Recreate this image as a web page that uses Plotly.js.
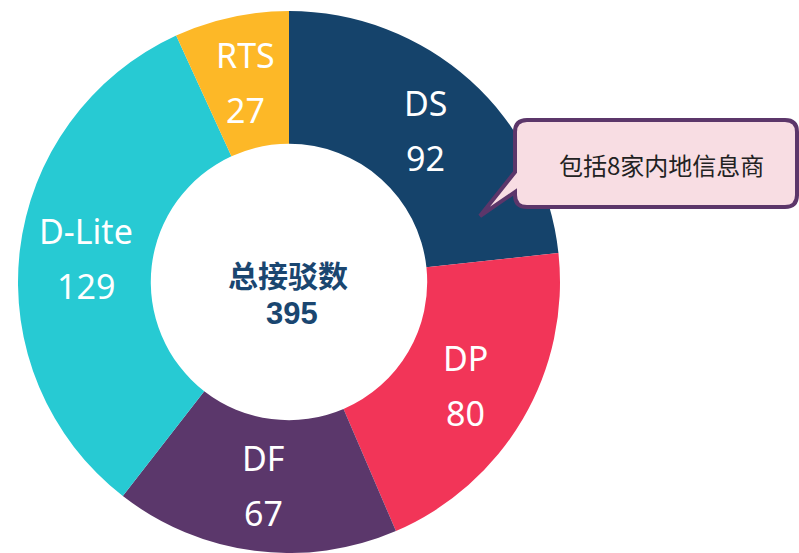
<!DOCTYPE html>
<html>
<head>
<meta charset="utf-8">
<script src="https://cdn.plot.ly/plotly-3.0.1.min.js"></script>
<style>html,body{margin:0;padding:0;background:#fff;}#chart{width:799px;height:553px;}</style>
</head>
<body>
<div id="chart"></div>
<script>
const categories = ["DS", "DP", "DF", "D-Lite", "RTS"];
const values = [92, 80, 67, 129, 27];
const colors = ["#15436B", "#F23558", "#5B376B", "#27CAD3", "#FDB827"];
const centerTitle = "总接驳数";
const total = values.reduce((a, b) => a + b, 0);
const calloutText = "包括8家内地信息商";

const W = 799, H = 553;
const px = x => x / W;
const py = y => 1 - y / H;

// pie geometry (pixels)
const pieLeft = 18, pieRight = 560, pieTop = 11, pieBottom = 553;
const hole = 0.51;
const cx = (pieLeft + pieRight) / 2, cy = (pieTop + pieBottom) / 2;
const R = Math.min(pieRight - pieLeft, pieBottom - pieTop) / 2;

// callout bubble path (pixel coordinates converted to paper)
function bubblePath() {
  const L = 515, Rt = 797, T = 120, B = 207, r = 12;
  const tailTop = 172, tailBot = 192, tipX = 480, tipY = 216;
  const P = (x, y) => px(x).toFixed(5) + "," + py(y).toFixed(5);
  return "M" + P(L + r, T) +
    " L" + P(Rt - r, T) + " Q" + P(Rt, T) + " " + P(Rt, T + r) +
    " L" + P(Rt, B - r) + " Q" + P(Rt, B) + " " + P(Rt - r, B) +
    " L" + P(L + r, B) + " Q" + P(L, B) + " " + P(L, B - r) +
    " L" + P(L, tailBot) + " L" + P(tipX, tipY) + " L" + P(L, tailTop) +
    " L" + P(L, T + r) + " Q" + P(L, T) + " " + P(L + r, T) + " Z";
}

const trace = {
  type: "pie",
  labels: categories,
  values: values,
  sort: false,
  direction: "clockwise",
  rotation: 0,
  hole: hole,
  marker: { colors: colors, line: { width: 0 } },
  textinfo: "none",
  hoverinfo: "label+value",
  showlegend: false,
  domain: { x: [pieLeft / W, pieRight / W], y: [1 - pieBottom / H, 1 - pieTop / H] }
};

// slice labels at the middle of the ring, mid-angle of each slice
const labelFont = { family: "Noto Sans, sans-serif", size: 34, color: "#ffffff" };
const sliceAnnotations = [];
let cum = 0;
const rMid = R * (1 + hole) / 2;
values.forEach((v, i) => {
  const mid = (cum + v / 2) / total * 2 * Math.PI;
  cum += v;
  const x = cx + rMid * Math.sin(mid);
  const y = cy - rMid * Math.cos(mid);
  sliceAnnotations.push({ text: categories[i], xref: "paper", yref: "paper", x: px(x), y: py(y - 27),
    xanchor: "center", yanchor: "middle", showarrow: false, font: labelFont });
  sliceAnnotations.push({ text: String(v), xref: "paper", yref: "paper", x: px(x), y: py(y + 28),
    xanchor: "center", yanchor: "middle", showarrow: false, font: labelFont });
});

const layout = {
  width: W, height: H,
  margin: { l: 0, r: 0, t: 0, b: 0 },
  paper_bgcolor: "#ffffff",
  plot_bgcolor: "#ffffff",
  showlegend: false,
  shapes: [{
    type: "path", xref: "paper", yref: "paper",
    path: bubblePath(),
    fillcolor: "#F8DDE3",
    line: { color: "#5C366A", width: 4 }
  }],
  annotations: sliceAnnotations.concat([
    { text: "<b>" + centerTitle + "</b>", xref: "paper", yref: "paper", x: px(288), y: py(274),
      xanchor: "center", yanchor: "middle",
      showarrow: false, font: { family: "Noto Sans CJK SC", size: 30, color: "#1A4670" } },
    { text: "<b>" + total + "</b>", xref: "paper", yref: "paper", x: px(292), y: py(313),
      xanchor: "center", yanchor: "middle",
      showarrow: false, font: { family: "Liberation Sans, Arial", size: 31, color: "#1A4670" } },
    { text: calloutText, xref: "paper", yref: "paper", x: px(661), y: py(164),
      xanchor: "center", yanchor: "middle",
      showarrow: false, font: { family: "Noto Sans CJK SC", size: 24, color: "#222222" } }
  ])
};

Plotly.newPlot("chart", [trace], layout, { displayModeBar: false, staticPlot: true });
</script>
</body>
</html>
